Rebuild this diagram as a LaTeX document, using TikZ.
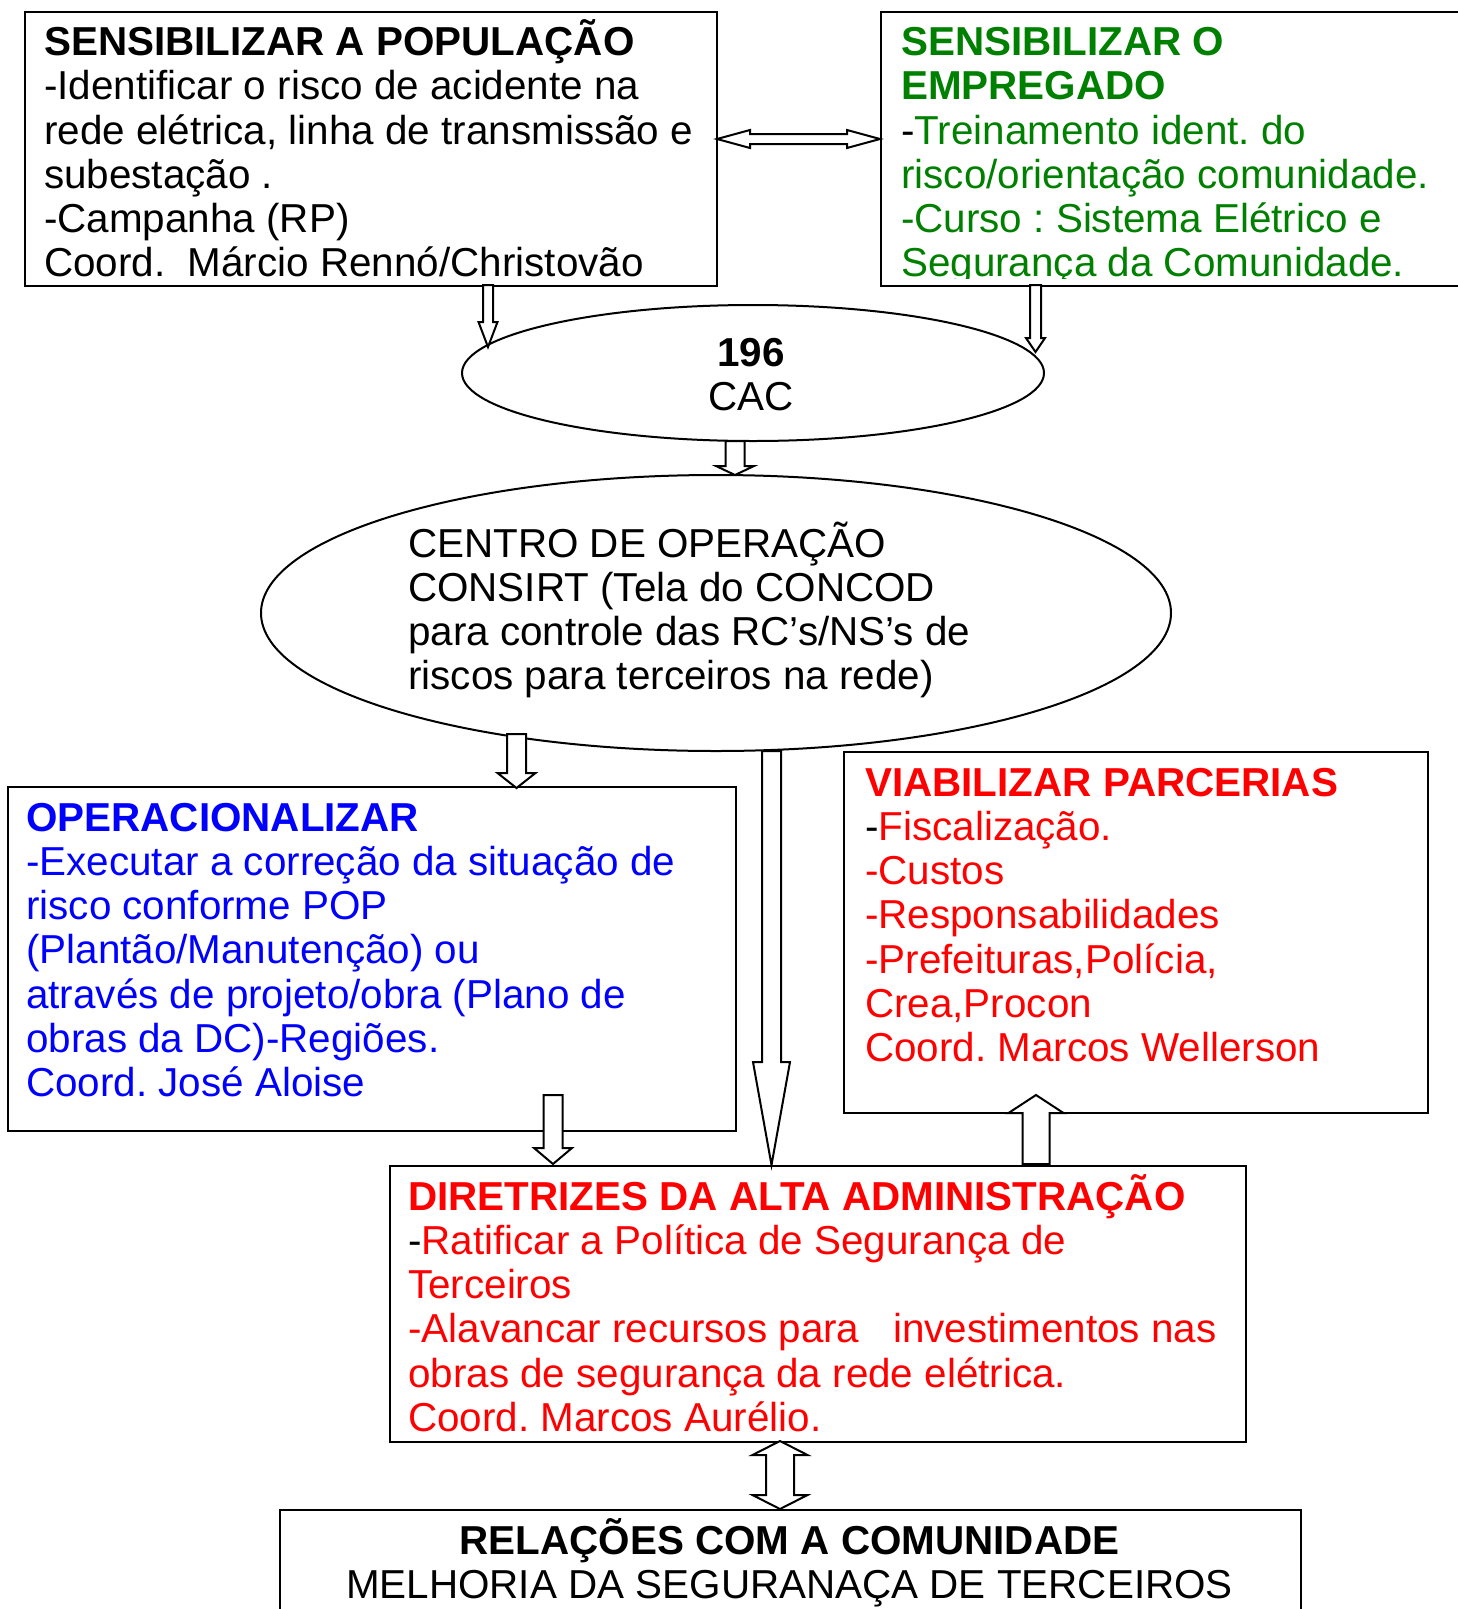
\documentclass[tikz,border=0pt]{standalone}
\usepackage{fontspec}
\setmainfont{Liberation Sans}
\usetikzlibrary{shapes.geometric}
\definecolor{grn}{RGB}{0,128,0}
\definecolor{blu}{RGB}{0,0,255}
\definecolor{rd}{RGB}{255,0,0}
\newcommand{\blocktext}[1]{\parbox[t]{1300pt}{\raggedright\frenchspacing\fontsize{40.4}{44.3}\selectfont #1}}
\newcommand{\centertext}[1]{\parbox[t]{1000pt}{\centering\frenchspacing\fontsize{40.4}{44.3}\selectfont #1}}
\tikzset{
  box/.style={draw=black, line width=2pt, inner sep=0pt, anchor=north west},
  ell/.style={draw=black, line width=2pt, ellipse, inner sep=0pt},
  lbl/.style={anchor=base west, inner sep=0pt},
  clbl/.style={anchor=base, inner sep=0pt},
  blk/.style={draw=black, line width=2pt, fill=white, line join=miter},
}
% x, ytop, ytip, shaft half, head half, head length
\newcommand{\blkdown}[6]{%
  \draw[blk] ({#1-#4},#2) -- ({#1+#4},#2) -- ({#1+#4},{#3-#6}) -- ({#1+#5},{#3-#6}) -- (#1,#3) -- ({#1-#5},{#3-#6}) -- ({#1-#4},{#3-#6}) -- cycle;}
% x, ybottom, ytip, shaft half, head half, head length
\newcommand{\blkup}[6]{%
  \draw[blk] ({#1-#4},#2) -- ({#1+#4},#2) -- ({#1+#4},{#3+#6}) -- ({#1+#5},{#3+#6}) -- (#1,#3) -- ({#1-#5},{#3+#6}) -- ({#1-#4},{#3+#6}) -- cycle;}
% x, ytop tip, ybottom tip, shaft half, head half, head length
\newcommand{\blkvv}[6]{%
  \draw[blk] (#1,#2) -- ({#1+#5},{#2+#6}) -- ({#1+#4},{#2+#6}) -- ({#1+#4},{#3-#6}) -- ({#1+#5},{#3-#6}) -- (#1,#3) -- ({#1-#5},{#3-#6}) -- ({#1-#4},{#3-#6}) -- ({#1-#4},{#2+#6}) -- ({#1-#5},{#2+#6}) -- cycle;}
% y, xleft tip, xright tip, shaft half, head half, head length
\newcommand{\blkhh}[6]{%
  \draw[blk] (#2,#1) -- ({#2+#6},{#1-#5}) -- ({#2+#6},{#1-#4}) -- ({#3-#6},{#1-#4}) -- ({#3-#6},{#1-#5}) -- (#3,#1) -- ({#3-#6},{#1+#5}) -- ({#3-#6},{#1+#4}) -- ({#2+#6},{#1+#4}) -- ({#2+#6},{#1+#5}) -- cycle;}
\begin{document}
\begin{tikzpicture}[x=1pt, y=-1pt]
\useasboundingbox (0,0) rectangle (1458,1609);
\clip (0,0) rectangle (1458,1609);
\fill[white] (0,0) rectangle (1458,1609);

% boxes
\node[box, minimum width=692pt, minimum height=274pt] (b1) at (24,11) {};
\node[box, minimum width=600pt, minimum height=274pt] (b2) at (880,11) {};
\node[ell, minimum width=582pt, minimum height=136pt] (cac) at (753,373) {};
\node[ell, minimum width=910pt, minimum height=276pt] (cop) at (716,613) {};
\node[box, minimum width=728pt, minimum height=344pt] (op) at (7,786) {};
\node[box, minimum width=584pt, minimum height=361pt] (vp) at (843,751) {};
\node[box, minimum width=856pt, minimum height=276pt] (dir) at (389,1165) {};
\node[box, minimum width=1021pt, minimum height=140pt] (rel) at (279,1509) {};

% texts
\node[lbl] (t1) at (44,55.4) {\blocktext{\textbf{SENSIBILIZAR A POPULAÇÃO}\\
-Identificar o risco de acidente na\\
rede elétrica, linha de transmissão e\\
subestação .\\
-Campanha (RP)\\
Coord.\ \ Márcio Rennó/Christovão}};

\begin{scope}
\clip (880,11) rectangle (1458,278.5);
\node[lbl, text=grn] (t2) at (901,55.4) {\blocktext{\textbf{SENSIBILIZAR O}\\
\textbf{EMPREGADO}\\
{\color{black}-}Treinamento ident. do\\
risco/orientação comunidade.\\
-Curso : Sistema Elétrico e\\
Segurança da Comunidade.}};
\end{scope}

\node[clbl] (t3) at (751,366) {\centertext{\textbf{196}\\CAC}};

\node[lbl] (t4) at (408,557) {\blocktext{CENTRO DE OPERAÇÃO\\
CONSIRT (Tela do CONCOD\\
para controle das RC’s/NS’s de\\
riscos para terceiros na rede)}};

\node[lbl, text=blu] (t5) at (26,831) {\blocktext{\textbf{OPERACIONALIZAR}\\
-Executar a correção da situação de\\
risco conforme POP\\
(Plantão/Manutenção) ou\\
através de projeto/obra (Plano de\\
obras da DC)-Regiões.\\
Coord. José Aloise}};

\node[lbl, text=rd] (t6) at (865,796) {\blocktext{\textbf{VIABILIZAR PARCERIAS}\\
{\color{black}-}Fiscalização.\\
-Custos\\
-Responsabilidades\\
-Prefeituras,Polícia,\\
Crea,Procon\\
Coord. Marcos Wellerson}};

\node[lbl, text=rd] (t7) at (408,1210) {\blocktext{\textbf{DIRETRIZES DA ALTA ADMINISTRAÇÃO}\\
{\color{black}-}Ratificar a Política de Segurança de\\
Terceiros\\
-Alavancar recursos para\ \ \ investimentos nas\\
obras de segurança da rede elétrica.\\
Coord. Marcos Aurélio.}};

\node[clbl] (t8) at (789.5,1554.5) {\centertext{\textbf{RELAÇÕES COM A COMUNIDADE}\\
MELHORIA DA SEGURANAÇA DE TERCEIROS}};

% block arrows
\blkhh{139}{717}{880}{5}{9}{33}
\blkdown{488}{285}{347}{5}{9.5}{25}
\blkdown{1035.5}{285}{352}{5.5}{9.5}{14}
\blkdown{735}{441}{475}{9.5}{19}{9}
\blkdown{516.5}{734}{788}{9.5}{19}{15}
\blkdown{771.5}{751}{1165}{9.5}{18.5}{103}
\blkdown{553}{1095}{1164}{9.5}{19}{16}
\blkup{1036}{1164}{1095}{13.5}{27.5}{18}
\blkvv{780}{1441}{1509}{14}{27.5}{14}
\end{tikzpicture}
\end{document}
